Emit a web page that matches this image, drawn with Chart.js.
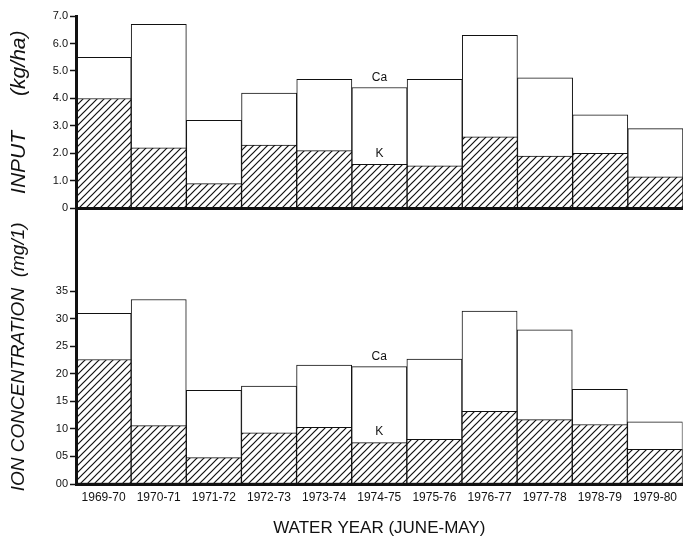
<!DOCTYPE html>
<html><head><meta charset="utf-8">
<script src="https://cdn.jsdelivr.net/npm/chart.js@4.4.0/dist/chart.umd.min.js"></script>
<style>
html,body{margin:0;padding:0;background:#fff;}
#wrap{position:relative;width:683px;height:543px;overflow:hidden;background:#fff;}
#c1{position:absolute;left:0;top:0;width:683px;height:217px;}
#c2{position:absolute;left:0;top:200px;width:683px;height:343px;}
</style></head><body>
<div id="wrap"><canvas id="c1" width="683" height="217"></canvas><canvas id="c2" width="683" height="343"></canvas></div>
<script>
const years = ['1969-70','1970-71','1971-72','1972-73','1973-74','1974-75','1975-76','1976-77','1977-78','1978-79','1979-80'];
const inputCa = [5.5, 6.7, 3.2, 4.2, 4.7, 4.4, 4.7, 6.3, 4.75, 3.4, 2.9];
const inputK  = [4.0, 2.2, 0.9, 2.3, 2.1, 1.6, 1.55, 2.6, 1.9, 2.0, 1.15];
const concCa  = [31.0, 33.5, 17.0, 17.8, 21.6, 21.3, 22.7, 31.4, 28.0, 17.2, 11.3];
const concK   = [22.6, 10.6, 4.8, 9.3, 10.3, 7.5, 8.1, 13.2, 11.7, 10.8, 6.3];
const inputTickValues = [0,1,2,3,4,5,6,7];
const inputTickLabels = ['0','1.0','2.0','3.0','4.0','5.0','6.0','7.0'];
const concTickValues = [0,5,10,15,20,25,30,35];
const concTickLabels = ['00','05','10','15','20','25','30','35'];
const labelIndex = 5;

const FONT = "'Liberation Sans', Arial, sans-serif";
Chart.defaults.font.family = FONT;
Chart.defaults.color = '#111';

function hatch(ctx){
  const s = 7;
  const c = document.createElement('canvas'); c.width = s; c.height = s;
  const g = c.getContext('2d');
  g.fillStyle = '#fff'; g.fillRect(0,0,s,s);
  g.strokeStyle = '#111'; g.lineWidth = 1.2; g.lineCap = 'square';
  g.beginPath();
  g.moveTo(0,s); g.lineTo(s,0);
  g.moveTo(-1,1); g.lineTo(1,-1);
  g.moveTo(s-1,s+1); g.lineTo(s+1,s-1);
  g.stroke();
  return ctx.createPattern(c,'repeat');
}

const labelPlugin = {
  id:'caK',
  afterDatasetsDraw(chart){
    const o = chart.options.plugins.caK; if(!o) return;
    const ctx = chart.ctx, x = chart.scales.x.getPixelForValue(labelIndex), y = chart.scales.y;
    ctx.save();
    ctx.fillStyle = '#111'; ctx.font = '12px ' + FONT; ctx.textAlign = 'center'; ctx.textBaseline = 'middle';
    ctx.fillText('Ca', x, y.getPixelForValue(o.ca[labelIndex]) - 10);
    ctx.fillText('K', x, y.getPixelForValue(o.k[labelIndex]) - 11);
    ctx.restore();
  }
};

function datasets(ctx, ca, k){
  return [
    {label:'Ca', data:ca, backgroundColor:'#fff', borderColor:'#111', borderWidth:1, borderSkipped:false, order:1},
    {label:'K', data:k, backgroundColor:hatch(ctx), borderColor:'#111', borderWidth:1, borderSkipped:false, order:0}
  ];
}

function yAxis(min, max, tv, tl, title, fs){
  return {
    min:min, max:max,
    afterBuildTicks: s => { s.ticks = tv.map(v => ({value:v})); },
    afterFit: s => { s.width = 76; },
    border:{display:true, width:3, color:'#111', z:1},
    grid:{display:true, drawOnChartArea:false, drawTicks:true, tickLength:6, tickWidth:1.5, tickColor:'#111', color:'rgba(0,0,0,0)'},
    ticks:{padding:2, font:{size:11}, color:'#111', callback:(v,i)=>tl[i]},
    title:{display:true, text:title, font:{size:fs, style:'italic'}, color:'#111', padding:{top:7,bottom:0}}
  };
}

const c1 = document.getElementById('c1');
new Chart(c1, {
  type:'bar',
  data:{labels:years, datasets:datasets(c1.getContext('2d'), inputCa, inputK)},
  options:{
    responsive:false, animation:false, events:[],
    datasets:{bar:{grouped:false, categoryPercentage:1, barPercentage:1}},
    layout:{padding:{top:16,left:0,right:0,bottom:0}},
    plugins:{legend:{display:false}, tooltip:{enabled:false}, caK:{ca:inputCa,k:inputK}},
    scales:{
      x:{type:'category', offset:true, grid:{display:false, drawTicks:false}, ticks:{display:false},
         border:{display:true, width:3, color:'#111', z:1}, afterFit: s => { s.height = 6; }},
      y:yAxis(0, 7, inputTickValues, inputTickLabels, 'INPUT      (kg/ha)', 21)
    }
  },
  plugins:[labelPlugin]
});

const c2 = document.getElementById('c2');
new Chart(c2, {
  type:'bar',
  data:{labels:years, datasets:datasets(c2.getContext('2d'), concCa, concK)},
  options:{
    responsive:false, animation:false, events:[],
    datasets:{bar:{grouped:false, categoryPercentage:1, barPercentage:1}},
    layout:{padding:{top:8,left:0,right:0,bottom:0}},
    plugins:{legend:{display:false}, tooltip:{enabled:false}, caK:{ca:concCa,k:concK}},
    scales:{
      x:{type:'category', offset:true, grid:{display:false, drawTicks:false},
         ticks:{padding:6, font:{size:12}, color:'#111', maxRotation:0, autoSkip:false},
         border:{display:true, width:3, color:'#111', z:1},
         title:{display:true, text:'WATER YEAR (JUNE-MAY)', font:{size:17}, color:'#111', padding:{top:0,bottom:4}},
         afterFit: s => { s.height = 59; }},
      y:yAxis(0, 50, concTickValues, concTickLabels, 'ION CONCENTRATION  (mg/1)    ', 19)
    }
  },
  plugins:[labelPlugin]
});
</script>
</body></html>
